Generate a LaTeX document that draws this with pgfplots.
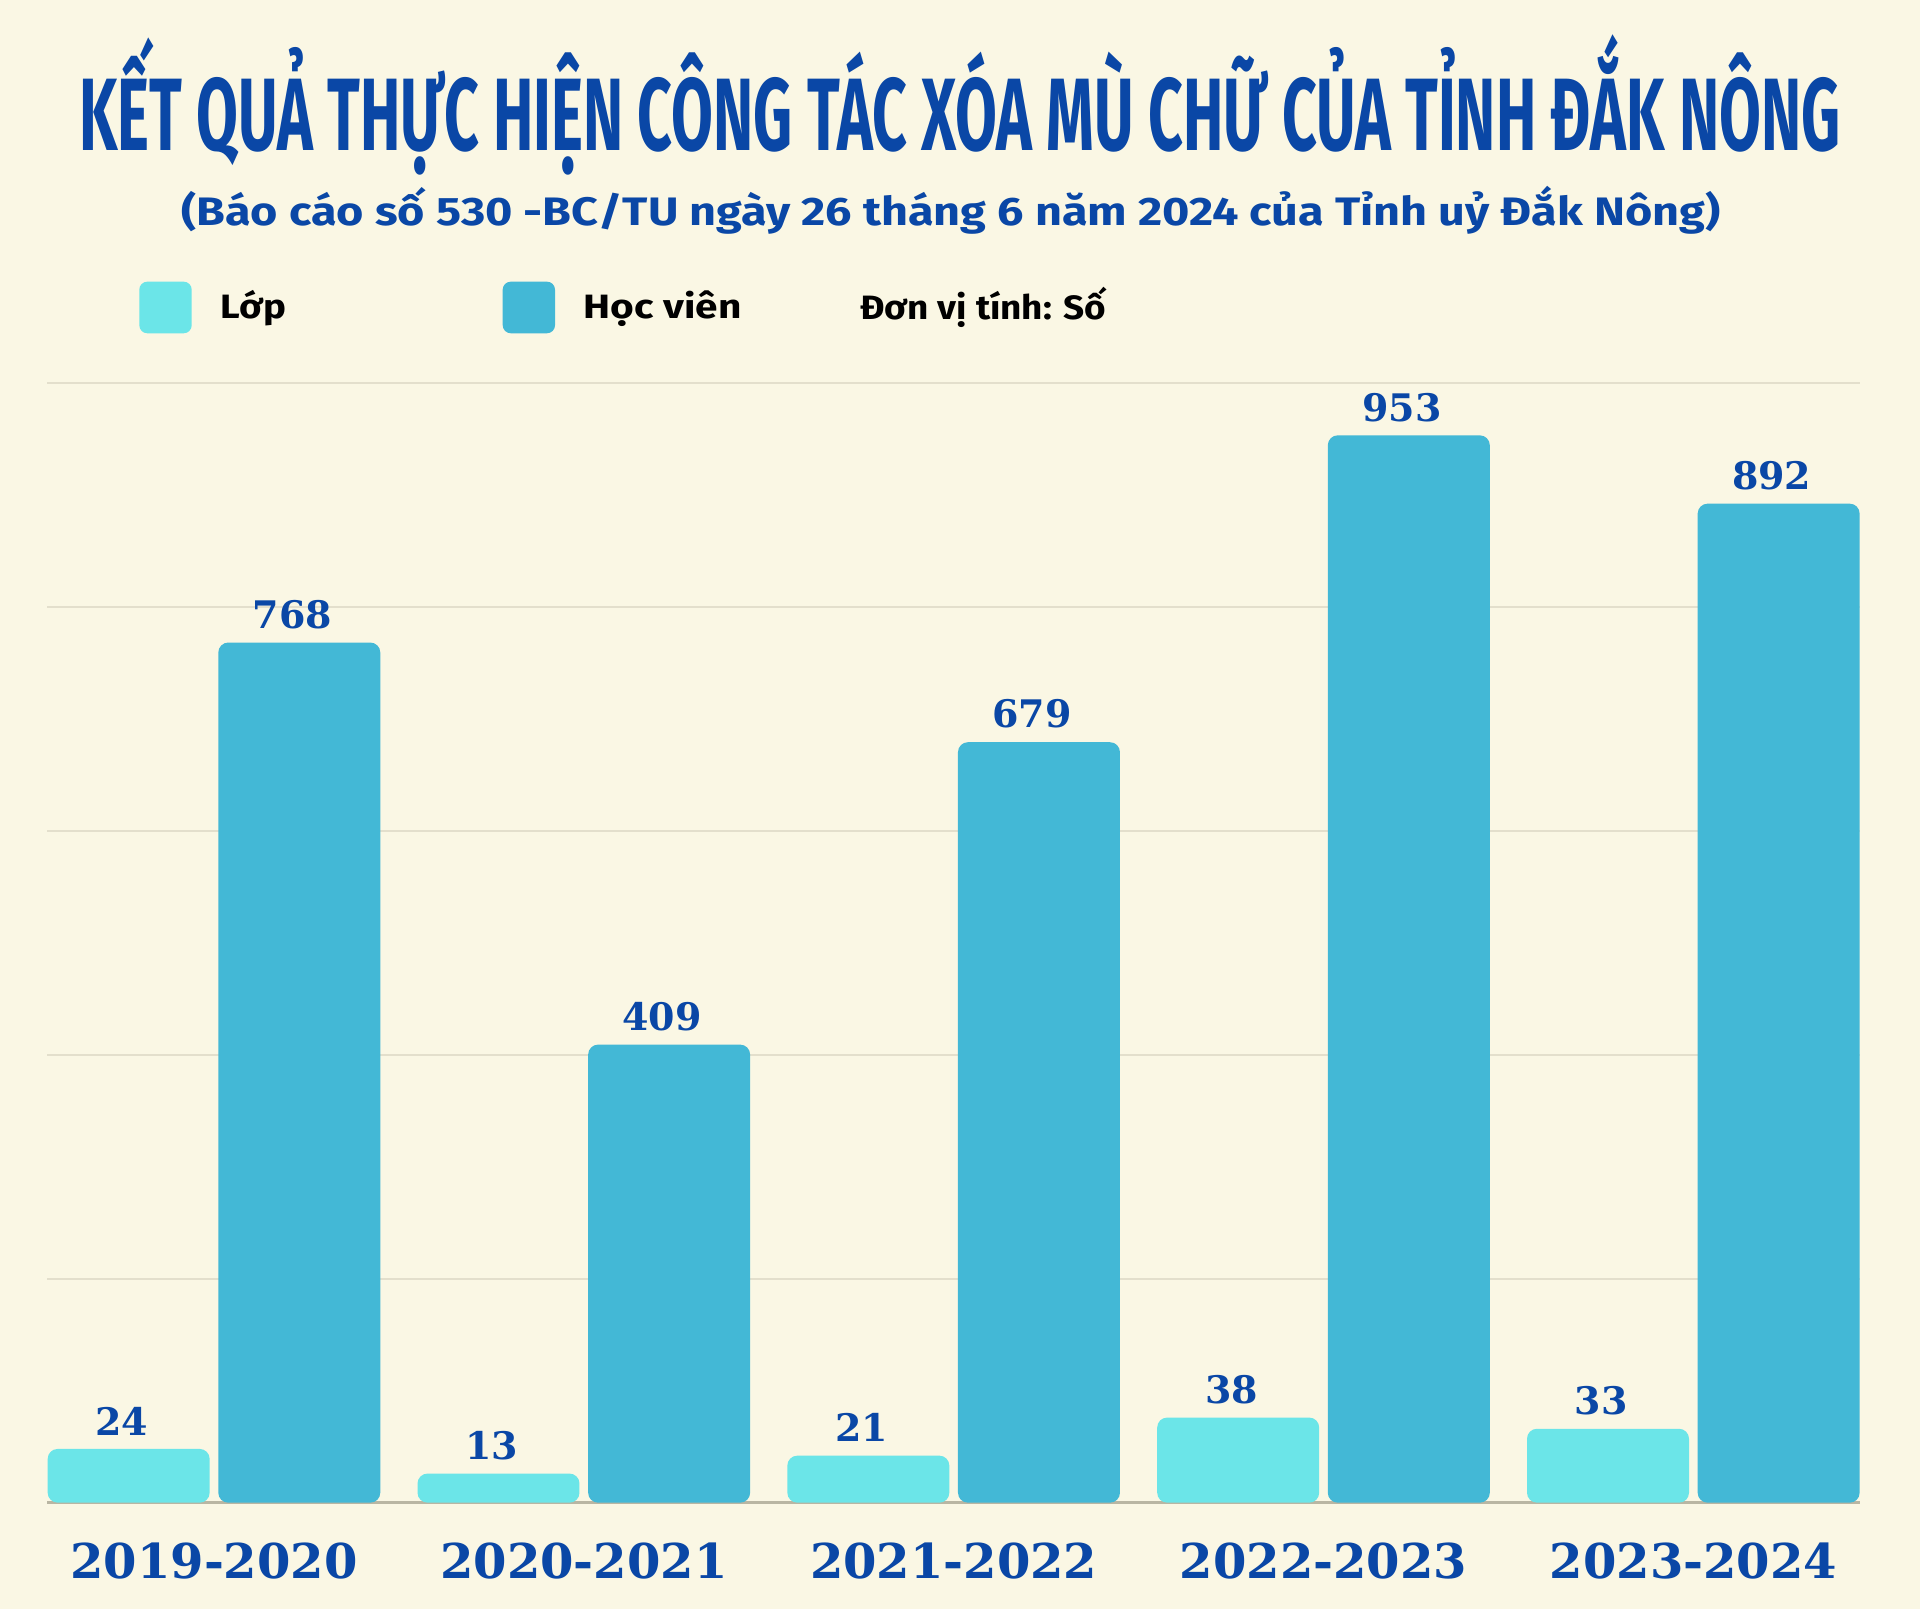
\documentclass[border=0pt]{standalone}
\usepackage{fontspec}
\usepackage{graphicx}
\usepackage{pgfplots}
\pgfplotsset{compat=1.18}
\setmainfont{Fira Sans}
\newfontfamily\numfont{DejaVu Serif}
\definecolor{bg}{HTML}{FAF7E4}
\definecolor{lop}{HTML}{6BE5E8}
\definecolor{hv}{HTML}{43B8D6}
\definecolor{ink}{HTML}{0A47A6}
\definecolor{gridc}{HTML}{E3DFCC}
\definecolor{basec}{HTML}{B9B6A3}

\pgfplotsset{
  barax/.style={
    at={(0.473cm,1.063cm)}, anchor=south west, scale only axis,
    width=18.127cm, height=11.2cm,
    xmin=-0.4507, xmax=4.4507, ymin=0,
    /pgf/number format/assume math mode=true,
  },
  vals/.style={
    nodes near coords,
    nodes near coords style={font=\numfont\bfseries\fontsize{10.8}{12}\selectfont,
      text=ink, anchor=south, inner sep=0pt, yshift=1.3mm, xshift=#1},
  },
}

\begin{document}
\begin{tikzpicture}
\fill[bg] (0,0) rectangle (19.2,16.09);
\useasboundingbox (0,0) rectangle (19.2,16.09);

% title + subtitle
\node[anchor=base, inner sep=0, text=ink] at (9.6,14.583)
  {\resizebox{17.61cm}{\height}{\fontsize{29.3}{31}\selectfont\bfseries KẾT QUẢ THỰC HIỆN CÔNG TÁC XÓA MÙ CHỮ CỦA TỈNH ĐẮK NÔNG}};
\node[anchor=base, inner sep=0, text=ink] at (9.508,13.833)
  {\resizebox{15.39cm}{\height}{\fontsize{11.3}{13}\selectfont\bfseries (Báo cáo số 530 -BC/TU ngày 26 tháng 6 năm 2024 của Tỉnh uỷ Đắk Nông)}};

% legend
\fill[lop, rounded corners=0.8mm] (1.393,12.757) rectangle (1.917,13.273);
\node[anchor=base west, inner sep=0] at (2.20,12.907)
  {\resizebox{0.657cm}{\height}{\fontsize{9.6}{11}\selectfont\bfseries Lớp}};
\fill[hv, rounded corners=0.8mm] (5.027,12.757) rectangle (5.55,13.273);
\node[anchor=base west, inner sep=0] at (5.829,12.907)
  {\resizebox{1.579cm}{\height}{\fontsize{9.6}{11}\selectfont\bfseries Học viên}};
\node[anchor=base west, inner sep=0] at (8.596,12.89)
  {\resizebox{2.461cm}{\height}{\fontsize{9.6}{11}\selectfont\bfseries Đơn vị tính: Số}};

% Hoc vien (scale 0-1000, with grid)
\begin{axis}[barax,
  ymax=1000,
  axis lines*=left,
  x axis line style={basec, line width=0.8pt, -},
  y axis line style={draw=none},
  ytick={200,400,...,1000}, yticklabels={},
  ymajorgrids, grid style={gridc, line width=0.5pt},
  xtick={0,...,4},
  xticklabels={2019-2020,2020-2021,2021-2022,2022-2023,2023-2024},
  major tick length=0pt,
  xticklabel style={font=\numfont\bfseries\fontsize{13.66}{15}\selectfont,
    text=ink, inner sep=0pt, anchor=north, yshift=-3.9mm},
]
\addplot[ybar, bar width=0.438, bar shift=0.2307, fill=hv, draw=none,
  rounded corners=1mm, vals=0.783cm]
  coordinates {(0,768) (1,409) (2,679) (3,953) (4,892)};
\end{axis}

% Lop (drawn on its own scale, 0-500)
\begin{axis}[barax, ymax=500, hide axis]
\addplot[ybar, bar width=0.438, bar shift=-0.2307, fill=lop, draw=none,
  rounded corners=1mm, vals=-0.92cm]
  coordinates {(0,24) (1,13) (2,21) (3,38) (4,33)};
\end{axis}
\end{tikzpicture}
\end{document}
